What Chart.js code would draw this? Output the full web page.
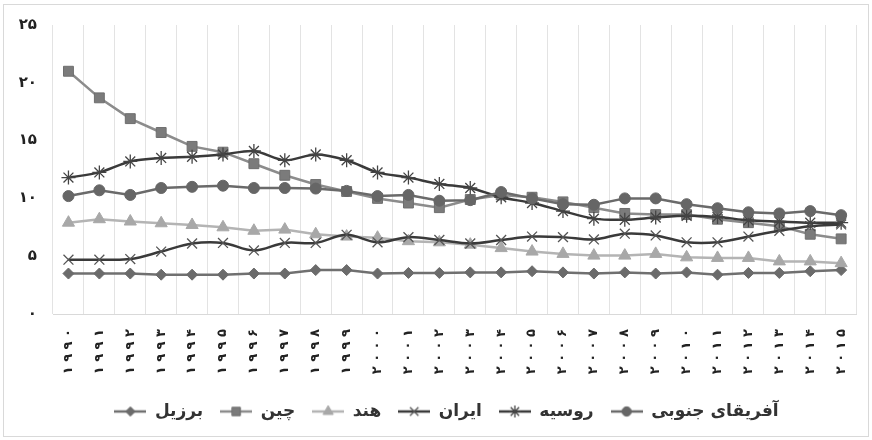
<!DOCTYPE html>
<html>
<head>
<meta charset="utf-8">
<script src="https://cdn.jsdelivr.net/npm/chart.js"></script>
<style>
  html, body { margin: 0; padding: 0; background: #fff; }
  #wrap { width: 872px; height: 440px; position: relative; }
</style>
</head>
<body>
<div id="wrap"><canvas id="c" width="872" height="440"></canvas></div>
<script>
// ---- data ----
const years = ['۱۹۹۰','۱۹۹۱','۱۹۹۲','۱۹۹۳','۱۹۹۴','۱۹۹۵','۱۹۹۶','۱۹۹۷','۱۹۹۸','۱۹۹۹','۲۰۰۰','۲۰۰۱','۲۰۰۲','۲۰۰۳','۲۰۰۴','۲۰۰۵','۲۰۰۶','۲۰۰۷','۲۰۰۸','۲۰۰۹','۲۰۱۰','۲۰۱۱','۲۰۱۲','۲۰۱۳','۲۰۱۴','۲۰۱۵'];
const yTickLabels = ['۰','۵','۱۰','۱۵','۲۰','۲۵'];
const seriesNames = ['برزیل','چین','هند','ایران','روسیه','آفریقای جنوبی'];

const brazil = [3.5,3.5,3.5,3.4,3.4,3.4,3.5,3.5,3.8,3.8,3.5,3.55,3.55,3.6,3.6,3.7,3.6,3.5,3.6,3.5,3.6,3.4,3.55,3.55,3.7,3.8];
const china  = [21.0,18.7,16.9,15.7,14.5,14.0,13.0,12.0,11.2,10.6,10.0,9.6,9.2,9.9,10.3,10.1,9.7,9.2,8.7,8.6,8.6,8.2,7.9,7.6,6.9,6.5];
const india  = [7.9,8.2,8.0,7.85,7.7,7.5,7.2,7.3,6.9,6.7,6.6,6.3,6.2,6.0,5.7,5.4,5.2,5.05,5.05,5.2,4.9,4.85,4.85,4.55,4.55,4.4];
const iran   = [4.7,4.7,4.75,5.4,6.1,6.15,5.5,6.15,6.15,6.85,6.2,6.65,6.4,6.1,6.4,6.7,6.65,6.45,6.95,6.8,6.2,6.2,6.7,7.2,7.6,7.75];
const russia = [11.8,12.25,13.2,13.5,13.6,13.8,14.1,13.3,13.8,13.3,12.25,11.8,11.25,10.9,10.1,9.6,8.9,8.25,8.15,8.35,8.5,8.4,8.1,8.0,7.9,7.9];
const southAfrica = [10.2,10.7,10.3,10.9,11.0,11.1,10.9,10.9,10.85,10.65,10.2,10.3,9.8,9.85,10.55,10.0,9.5,9.45,10.0,10.0,9.5,9.15,8.8,8.7,8.9,8.55];

// ---- styles ----
const styles = [
  {line:'#707070', fill:'#6b6b6b', stroke:'#6b6b6b', point:'rectRot', r:5.5, bw:1, tension:0},
  {line:'#8c8c8c', fill:'#7b7b7b', stroke:'#6e6e6e', point:'rect',    r:7,   bw:1, tension:0},
  {line:'#b4b4b4', fill:'#a8a8a8', stroke:'#a8a8a8', point:'triangle',r:7,   bw:1, tension:0},
  {line:'#3a3a3a', fill:'#555555', stroke:'#555555', point:'crossRot',r:7,   bw:1.3, tension:0.35},
  {line:'#3a3a3a', fill:'#444444', stroke:'#444444', point:'star',    r:7,   bw:1.3, tension:0.3},
  {line:'#6a6a6a', fill:'#666666', stroke:'#666666', point:'circle',  r:5.5, bw:1, tension:0}
];
const values = [brazil, china, india, iran, russia, southAfrica];

function legendImage(s) {
  const cv = document.createElement('canvas');
  cv.width = 32; cv.height = 16;
  const g = cv.getContext('2d');
  g.strokeStyle = s.line; g.lineWidth = 2.5;
  g.beginPath(); g.moveTo(0, 8); g.lineTo(32, 8); g.stroke();
  g.fillStyle = s.fill; g.strokeStyle = s.stroke; g.lineWidth = s.bw;
  Chart.helpers.drawPoint(g, {pointStyle: s.point, radius: s.r * 0.85, borderWidth: s.bw, rotation: 0}, 16, 8);
  return cv;
}

const datasets = values.map((v, i) => ({
  label: seriesNames[i],
  data: v,
  borderColor: styles[i].line,
  borderWidth: 2.5,
  backgroundColor: styles[i].fill,
  pointStyle: styles[i].point,
  pointRadius: styles[i].r,
  pointBackgroundColor: styles[i].fill,
  pointBorderColor: styles[i].stroke,
  pointBorderWidth: styles[i].bw,
  tension: styles[i].tension,
  order: values.length - i,
  fill: false
}));

const frame = {
  id: 'frame',
  beforeDraw(chart) {
    const ctx = chart.ctx;
    ctx.save();
    ctx.fillStyle = '#fff';
    ctx.fillRect(0, 0, chart.width, chart.height);
    ctx.strokeStyle = '#d9d9d9';
    ctx.lineWidth = 1;
    ctx.strokeRect(3.5, 4.5, chart.width - 7, chart.height - 8);
    ctx.restore();
  },
  afterLayout(chart) {
    // nudge the legend row a little to the right, as in the original
    if (chart.legend) { chart.legend.left += 34; }
  }
};

const legendImgs = styles.map(legendImage);

new Chart(document.getElementById('c'), {
  type: 'line',
  data: { labels: years, datasets },
  plugins: [frame],
  options: {
    responsive: false,
    animation: false,
    devicePixelRatio: 1,
    layout: { padding: { top: 25, right: 13, bottom: 10, left: 0 } },
    plugins: {
      tooltip: { enabled: false },
      legend: {
        position: 'bottom',
        labels: {
          usePointStyle: true,
          pointStyleWidth: 32,
          padding: 17,
          color: '#333',
          font: { family: 'DejaVu Sans', size: 17, weight: 'bold' },
          sort: (a, b) => a.datasetIndex - b.datasetIndex,
          generateLabels(chart) {
            const base = Chart.defaults.plugins.legend.labels.generateLabels(chart);
            return base.map(l => Object.assign(l, { pointStyle: legendImgs[l.datasetIndex] }));
          }
        }
      }
    },
    scales: {
      x: {
        offset: true,
        grid: { display: true, offset: true, color: '#e3e3e3', lineWidth: 1, drawTicks: false },
        border: { display: true, color: '#d9d9d9' },
        ticks: {
          minRotation: 90, maxRotation: 90, autoSkip: false, padding: 15,
          color: '#222',
          font: { family: 'DejaVu Sans', size: 13, weight: 'bold' },
          callback: (v, i) => years[i].split('').join(' ')
        },
        afterFit(scale) { scale.height = 72; }
      },
      y: {
        min: 0, max: 25,
        grid: { display: false, drawTicks: false },
        border: { display: false },
        ticks: {
          stepSize: 5, padding: 16,
          color: '#222',
          font: { family: 'DejaVu Sans', size: 15, weight: 'bold' },
          callback: (v) => yTickLabels[Math.round(v / 5)]
        },
        afterFit(scale) { scale.width = 53; }
      }
    }
  }
});
</script>
</body>
</html>
